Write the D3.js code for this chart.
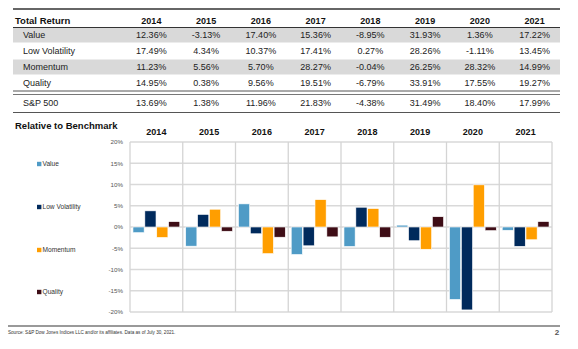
<!DOCTYPE html>
<html>
<head>
<meta charset="utf-8">
<script src="https://cdn.jsdelivr.net/npm/d3@7"></script>
<style>
  body { margin: 0; background: #fff; }
  text { font-family: Arial, "Liberation Sans", sans-serif; }
</style>
</head>
<body>
<div class="chart"></div>
<script>
"use strict"

// years / factors
const years = ["2014", "2015", "2016", "2017", "2018", "2019", "2020", "2021"];
const factors = ["Value", "Low Volatility", "Momentum", "Quality"];
const colors = ["#4f9bc6", "#002a5c", "#ff9e00", "#3e0d16"];

// total return table (strings as printed)
const valueRet   = ["12.36%", "-3.13%", "17.40%", "15.36%", "-8.95%", "31.93%", "1.36%", "17.22%"];
const lowVolRet  = ["17.49%", "4.34%", "10.37%", "17.41%", "0.27%", "28.26%", "-1.11%", "13.45%"];
const momRet     = ["11.23%", "5.56%", "5.70%", "28.27%", "-0.04%", "26.25%", "28.32%", "14.99%"];
const qualityRet = ["14.95%", "0.38%", "9.56%", "19.51%", "-6.79%", "33.91%", "17.55%", "19.27%"];
const spRet      = ["13.69%", "1.38%", "11.96%", "21.83%", "-4.38%", "31.49%", "18.40%", "17.99%"];

// relative to benchmark (%)
const valueRel   = [-1.33, -4.51, 5.44, -6.47, -4.57, 0.44, -17.04, -0.77];
const lowVolRel  = [3.80, 2.96, -1.59, -4.42, 4.65, -3.23, -19.51, -4.54];
const momRel     = [-2.46, 4.18, -6.26, 6.44, 4.34, -5.24, 9.92, -3.00];
const qualityRel = [1.26, -1.00, -2.40, -2.32, -2.41, 2.42, -0.85, 1.28];

const yTicks = [20, 15, 10, 5, 0, -5, -10, -15, -20];

const W = 578, H = 349;
let svg = d3.select(".chart").append("svg")
  .attr("width", W)
  .attr("height", H);

//// table
const tx = d3.scaleBand().domain(years).range([124, 562]);
const rows = [
  { name: "Value", vals: valueRet, y: 35, shade: true },
  { name: "Low Volatility", vals: lowVolRet, y: 51, shade: false },
  { name: "Momentum", vals: momRet, y: 67, shade: true },
  { name: "Quality", vals: qualityRet, y: 83, shade: false },
  { name: "S&P 500", vals: spRet, y: 103, shade: false }
];

svg.append("line").attr("x1", 13).attr("x2", 560).attr("y1", 9).attr("y2", 9)
  .attr("stroke", "#333").attr("stroke-width", 1.5);

svg.selectAll("rect.shade")
  .data(rows.filter(r => r.shade))
  .enter()
  .append("rect")
  .attr("class", "shade")
  .attr("x", 13).attr("width", 547)
  .attr("y", d => d.y - 7.5).attr("height", 15)
  .attr("fill", "#d9d9d9");

svg.append("text").attr("x", 15).attr("y", 23.5)
  .attr("font-size", 9.5).attr("font-weight", "bold").attr("fill", "#111")
  .text("Total Return");

svg.selectAll("text.yr")
  .data(years)
  .enter()
  .append("text")
  .attr("class", "yr")
  .attr("x", d => tx(d) + tx.bandwidth() / 2)
  .attr("y", 23.5)
  .attr("text-anchor", "middle")
  .attr("font-size", 9).attr("font-weight", "bold").attr("fill", "#111")
  .text(d => d);

svg.append("line").attr("x1", 13).attr("x2", 560).attr("y1", 27.5).attr("y2", 27.5)
  .attr("stroke", "#333").attr("stroke-width", 1);

rows.forEach(function (r) {
  svg.append("text").attr("x", 23).attr("y", r.y + 3.3)
    .attr("font-size", 9).attr("fill", "#222")
    .text(r.name);
  svg.selectAll(null)
    .data(r.vals)
    .enter()
    .append("text")
    .attr("x", (d, i) => tx(years[i]) + tx.bandwidth() / 2)
    .attr("y", r.y + 3.3)
    .attr("text-anchor", "middle")
    .attr("font-size", 9).attr("fill", "#222")
    .text(d => d);
});

// double rule above S&P, and rule below
svg.append("line").attr("x1", 13).attr("x2", 560).attr("y1", 91).attr("y2", 91)
  .attr("stroke", "#555").attr("stroke-width", 1);
svg.append("line").attr("x1", 13).attr("x2", 560).attr("y1", 94.5).attr("y2", 94.5)
  .attr("stroke", "#777").attr("stroke-width", 1);
svg.append("line").attr("x1", 13).attr("x2", 560).attr("y1", 112.5).attr("y2", 112.5)
  .attr("stroke", "#555").attr("stroke-width", 1.2);

//// chart
svg.append("text").attr("x", 15).attr("y", 129)
  .attr("font-size", 9.5).attr("font-weight", "bold").attr("fill", "#111")
  .text("Relative to Benchmark");

const x = d3.scaleBand().domain(years).range([130, 552]);
const xi = d3.scaleBand().domain(factors).range([0, x.bandwidth()]).paddingOuter(0.25).paddingInner(0.06);
const y = d3.scaleLinear().domain([-20, 20]).range([312, 142]);

svg.selectAll("text.cyr")
  .data(years)
  .enter()
  .append("text")
  .attr("class", "cyr")
  .attr("x", d => x(d) + x.bandwidth() / 2)
  .attr("y", 134.5)
  .attr("text-anchor", "middle")
  .attr("font-size", 9).attr("font-weight", "bold").attr("fill", "#111")
  .text(d => d);

// grid
svg.selectAll("line.hg")
  .data(yTicks)
  .enter()
  .append("line")
  .attr("x1", 130).attr("x2", 552)
  .attr("y1", d => y(d)).attr("y2", d => y(d))
  .attr("stroke", "#d9d9d9").attr("stroke-width", 1.3);

svg.selectAll("line.vg")
  .data(years.concat(["end"]))
  .enter()
  .append("line")
  .attr("x1", (d, i) => i < years.length ? x(d) : x.range()[1])
  .attr("x2", (d, i) => i < years.length ? x(d) : x.range()[1])
  .attr("y1", 142).attr("y2", 312)
  .attr("stroke", "#d4d4d4").attr("stroke-width", 1.3);

let yAxis = svg.append("g")
  .attr("transform", "translate(126,0)")
  .call(d3.axisLeft(y).tickValues(yTicks).tickSize(0).tickFormat(d => d + "%"));
yAxis.select(".domain").remove();
yAxis.selectAll("text")
  .attr("font-size", 6.2).attr("fill", "#555")
  .attr("font-family", "Arial, 'Liberation Sans', sans-serif");

// bars
const rel = [valueRel, lowVolRel, momRel, qualityRel];
factors.forEach(function (f, k) {
  svg.selectAll(null)
    .data(rel[k])
    .enter()
    .append("rect")
    .attr("x", (d, i) => x(years[i]) + xi(f))
    .attr("width", xi.bandwidth())
    .attr("y", d => y(Math.max(0, d)))
    .attr("height", d => Math.abs(y(d) - y(0)))
    .attr("fill", colors[k])
    .attr("stroke", "#fff").attr("stroke-width", 0.6);
});

// legend
const legY = [164, 207, 250, 292];
let leg = svg.selectAll("g.leg")
  .data(factors)
  .enter()
  .append("g")
  .attr("class", "leg")
  .attr("transform", (d, i) => "translate(37," + legY[i] + ")");
leg.append("rect").attr("x", 0).attr("y", -2.2).attr("width", 4.4).attr("height", 4.4)
  .attr("fill", (d, i) => colors[i]);
leg.append("text").attr("x", 5.5).attr("y", 2.4)
  .attr("font-size", 6.6).attr("fill", "#333")
  .text(d => d);

// footer
svg.append("line").attr("x1", 8).attr("x2", 560).attr("y1", 326).attr("y2", 326)
  .attr("stroke", "#777").attr("stroke-width", 1.5);
svg.append("text").attr("x", 8).attr("y", 333.5)
  .attr("font-size", 4.6).attr("fill", "#333")
  .text("Source: S&P Dow Jones Indices LLC and/or its affiliates. Data as of July 30, 2021.");
svg.append("text").attr("x", 557).attr("y", 335)
  .attr("text-anchor", "middle")
  .attr("font-size", 8).attr("font-weight", "bold").attr("fill", "#555")
  .text("2");
</script>
</body>
</html>
